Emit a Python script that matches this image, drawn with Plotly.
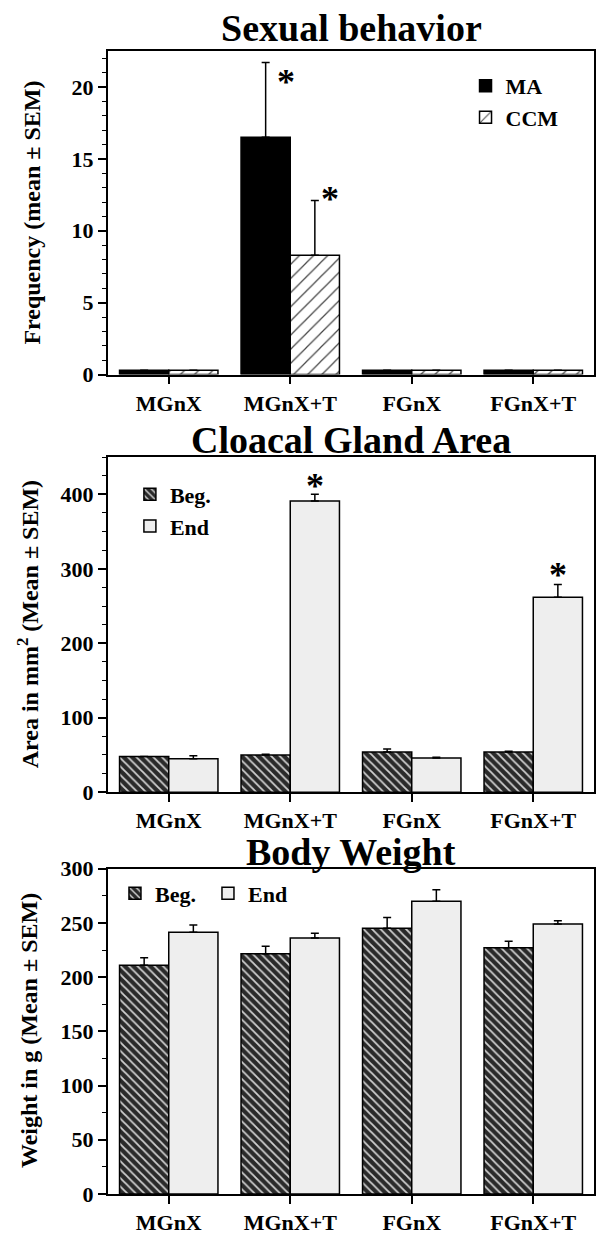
import plotly.graph_objects as go

# ---------------- data ----------------
groups = ["MGnX", "MGnX+T", "FGnX", "FGnX+T"]

# Sexual behavior
ma = [0.3, 16.5, 0.3, 0.3]
ma_err = [0, 5.2, 0, 0]
ccm = [0.3, 8.3, 0.3, 0.3]
ccm_err = [0, 3.8, 0, 0]

# Cloacal gland area (mm^2)
cg_beg = [48, 50, 54, 54]
cg_beg_err = [0, 1, 4, 1]
cg_end = [45, 391, 46, 262]
cg_end_err = [4, 9, 1, 17]

# Body weight (g)
bw_beg = [211, 221.5, 245, 227]
bw_beg_err = [7, 7, 10, 6]
bw_end = [241.5, 236, 270, 249]
bw_end_err = [6.5, 4.5, 10.5, 3]

FONT = "Liberation Serif"
BLACK = "black"

# ---------------- layout geometry ----------------
W, H = 597, 1236
ML, MR, MT, MB = 108, 1, 51, 30
PH = H - MT - MB


def py(px):
    return (H - MB - px) / PH


def pxx(px):
    return (px - ML) / (W - ML - MR)


fig = go.Figure()


def err(arr):
    return dict(type="data", array=arr, arrayminus=[0] * len(arr), symmetric=False,
                color=BLACK, thickness=1.5, width=4)


beg_pattern = dict(shape="\\", size=6, solidity=0.3, fgcolor="#cfcfcf", bgcolor="#2a2a2a",
                   fillmode="replace")
end_color = "#eeeeee"

# top chart
fig.add_trace(go.Bar(x=groups, y=ma, name="MA", error_y=err(ma_err),
                     marker=dict(color=BLACK, line=dict(color=BLACK, width=1.5)),
                     xaxis="x", yaxis="y", legend="legend"))
fig.add_trace(go.Bar(x=groups, y=ccm, name="CCM", error_y=err(ccm_err),
                     marker=dict(color="white", line=dict(color=BLACK, width=1.5),
                                 pattern=dict(shape="/", size=10, solidity=0.12,
                                              fgcolor="#444444", bgcolor="white",
                                              fillmode="replace")),
                     xaxis="x", yaxis="y", legend="legend"))
# middle chart
fig.add_trace(go.Bar(x=groups, y=cg_beg, name="Beg.", error_y=err(cg_beg_err),
                     marker=dict(color="#2a2a2a", line=dict(color=BLACK, width=1.5),
                                 pattern=beg_pattern),
                     xaxis="x2", yaxis="y2", legend="legend2"))
fig.add_trace(go.Bar(x=groups, y=cg_end, name="End", error_y=err(cg_end_err),
                     marker=dict(color=end_color, line=dict(color=BLACK, width=1.5)),
                     xaxis="x2", yaxis="y2", legend="legend2"))
# bottom chart
fig.add_trace(go.Bar(x=groups, y=bw_beg, name="Beg.", error_y=err(bw_beg_err),
                     marker=dict(color="#2a2a2a", line=dict(color=BLACK, width=1.5),
                                 pattern=beg_pattern),
                     xaxis="x3", yaxis="y3", legend="legend3"))
fig.add_trace(go.Bar(x=groups, y=bw_end, name="End", error_y=err(bw_end_err),
                     marker=dict(color=end_color, line=dict(color=BLACK, width=1.5)),
                     xaxis="x3", yaxis="y3", legend="legend3"))

tickfont = dict(family=FONT, size=22, color=BLACK, weight="bold")


def xax(anchor):
    return dict(type="category", range=[-0.5, 3.5], anchor=anchor, showline=True,
                linecolor=BLACK, linewidth=1.5, mirror=True, ticks="outside", ticklen=8,
                tickwidth=1.5, tickcolor=BLACK, tickfont=tickfont, showgrid=False,
                zeroline=False)


def yax(anchor, dom, rng, dtick, minor):
    return dict(domain=dom, anchor=anchor, range=rng, dtick=dtick, showline=True,
                linecolor=BLACK, linewidth=2, mirror=True, ticks="outside", ticklen=8,
                tickwidth=1.5, tickcolor=BLACK, tickfont=tickfont, showgrid=False,
                zeroline=False,
                minor=dict(dtick=minor, ticks="outside", ticklen=4, tickwidth=1.2,
                           tickcolor=BLACK, showgrid=False))


legfont = dict(family=FONT, size=22, color=BLACK, weight="bold")

fig.update_layout(
    width=W, height=H, margin=dict(l=ML, r=MR, t=MT, b=MB),
    paper_bgcolor="white", plot_bgcolor="white",
    barmode="group", bargap=0.19, bargroupgap=0,
    font=dict(family=FONT, color=BLACK),
    xaxis=xax("y"), yaxis=yax("x", [py(378), 1.0], [0, 22.5], 5, 1),
    xaxis2=xax("y2"), yaxis2=yax("x2", [py(800), py(461.4)], [0, 450], 100, 25),
    xaxis3=xax("y3"), yaxis3=yax("x3", [0, py(877.3)], [0, 300], 50, 25),
    legend=dict(x=pxx(467), y=py(65), xanchor="left", yanchor="top", font=legfont,
                bgcolor="rgba(0,0,0,0)", tracegroupgap=0),
    legend2=dict(x=pxx(130), y=py(478), xanchor="left", yanchor="top", font=legfont,
                 bgcolor="rgba(0,0,0,0)", tracegroupgap=0),
    legend3=dict(x=pxx(115), y=py(881), xanchor="left", yanchor="top", font=legfont,
                 orientation="h", entrywidth=48, entrywidthmode="pixels",
                 bgcolor="rgba(0,0,0,0)"),
    showlegend=True,
)

# titles (pixel position of the text box top)
titles = [("Sexual behavior", 5), ("Cloacal Gland Area", 421), ("Body Weight", 837)]
for t, ypx in titles:
    fig.add_annotation(text=t, xref="paper", yref="paper", x=0.5, y=py(ypx),
                       xanchor="center", yanchor="top", showarrow=False,
                       font=dict(family=FONT, size=38, color=BLACK, weight="bold"))

# y-axis titles
ytitles = [("Frequency (mean ± SEM)", 32, 214), ("Area in mm<sup>2</sup> (Mean ± SEM)", 28, 630),
           ("Weight in g (Mean ± SEM)", 28, 1041)]
for t, xp, ypx in ytitles:
    fig.add_annotation(text=t, xref="paper", yref="paper", x=pxx(xp), y=py(ypx),
                       xanchor="center", yanchor="middle", showarrow=False, textangle=-90,
                       font=dict(family=FONT, size=24, color=BLACK, weight="bold"))

# significance stars
stars = [("x", "y", 1 - 0.033, ma[1] + ma_err[1], -19),
         ("x", "y", 1 + 0.33, ccm[1] + ccm_err[1], 2),
         ("x2", "y2", 1 + 0.2, cg_end[1] + cg_end_err[1], 8),
         ("x2", "y2", 3 + 0.2, cg_end[3] + cg_end_err[3], 9)]
for xr, yr, xv, yv, ys in stars:
    fig.add_annotation(text="*", xref=xr, yref=yr, x=xv, y=yv, yshift=ys,
                       xanchor="center", yanchor="middle", showarrow=False,
                       font=dict(family=FONT, size=36, color=BLACK, weight="bold"))

fig.write_html("out.html")
